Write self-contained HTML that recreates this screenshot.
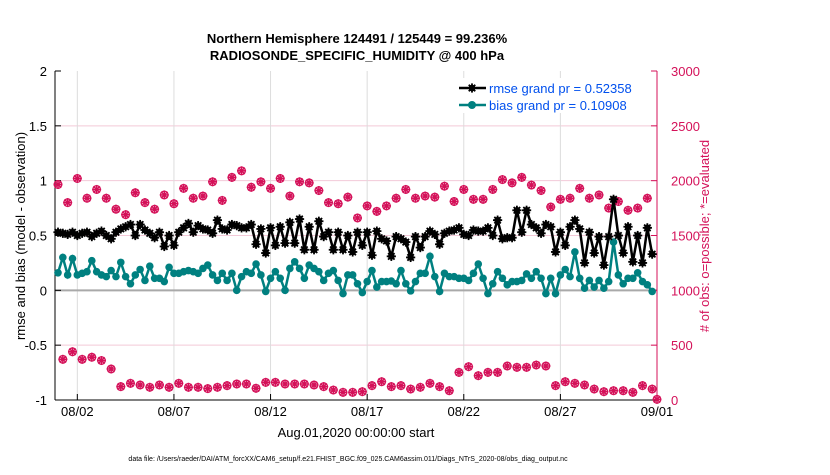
<!DOCTYPE html>
<html><head><meta charset="utf-8"><style>
body{margin:0;background:#fff;width:830px;height:470px;overflow:hidden;font-family:"Liberation Sans",Arial,sans-serif}
svg text{font-family:"Liberation Sans",Arial,sans-serif}
</style></head><body>
<svg id="chart" width="830" height="470" xmlns="http://www.w3.org/2000/svg">
<g id="grid"></g>
<g id="axes"></g>
<g id="marks"></g>
<text x="357" y="43" text-anchor="middle" font-size="13" font-weight="bold">Northern Hemisphere 124491 / 125449 = 99.236%</text>
<text x="357" y="60" text-anchor="middle" font-size="13" font-weight="bold">RADIOSONDE_SPECIFIC_HUMIDITY @ 400 hPa</text>
<text transform="translate(25,236) rotate(-90)" text-anchor="middle" font-size="13">rmse and bias (model - observation)</text>
<text transform="translate(709,236) rotate(-90)" text-anchor="middle" font-size="13" fill="#d41159">#&#160;of obs: o=possible; *=evaluated</text>
<text x="356" y="437" text-anchor="middle" font-size="13">Aug.01,2020 00:00:00 start</text>
<text x="348" y="461" text-anchor="middle" font-size="7">data file: /Users/raeder/DAI/ATM_forcXX/CAM6_setup/f.e21.FHIST_BGC.f09_025.CAM6assim.011/Diags_NTrS_2020-08/obs_diag_output.nc</text>
<g>
<rect x="453" y="78" width="199" height="35" fill="#fff" stroke="none"/>
<line x1="459" y1="88" x2="486" y2="88" stroke="#000" stroke-width="2.5"/>
<g id="lg1"></g>
<text x="489" y="93" font-size="13" fill="#0050ee">rmse grand pr = 0.52358</text>
<line x1="459" y1="105" x2="486" y2="105" stroke="#008080" stroke-width="2.5"/>
<circle cx="472" cy="105" r="4" fill="#008080"/>
<text x="489" y="110" font-size="13" fill="#0050ee">bias grand pr = 0.10908</text>
</g>
</svg>
<script>
const rmse=[0.53,0.52,0.51,0.53,0.50,0.52,0.53,0.49,0.52,0.54,0.50,0.47,0.53,0.56,0.58,0.60,0.50,0.60,0.55,0.52,0.48,0.53,0.40,0.50,0.41,0.53,
0.57,0.61,0.53,0.59,0.56,0.55,0.52,0.64,0.56,0.55,0.60,0.59,0.57,0.57,0.60,0.42,0.56,0.34,0.57,0.41,0.58,0.43,0.62,0.43,0.65,
0.37,0.58,0.37,0.63,0.49,0.53,0.37,0.53,0.37,0.50,0.35,0.53,0.41,0.53,0.32,0.54,0.47,0.45,0.31,0.49,0.47,0.44,0.30,0.49,
0.39,0.49,0.54,0.51,0.42,0.52,0.54,0.55,0.57,0.51,0.50,0.55,0.54,0.54,0.57,0.50,0.64,0.47,0.48,0.48,0.73,0.53,0.73,0.60,0.57,
0.52,0.60,0.58,0.35,0.53,0.41,0.58,0.64,0.56,0.25,0.53,0.34,0.49,0.23,0.49,0.83,0.50,0.34,0.58,0.26,0.50,0.25,0.57,0.33];
const bias=[0.16,0.30,0.14,0.29,0.14,0.155,0.17,0.27,0.17,0.14,0.125,0.18,0.125,0.255,0.125,0.06,0.14,0.19,0.09,0.22,0.11,0.11,0.08,0.21,0.155,0.155,
0.17,0.18,0.17,0.155,0.2,0.23,0.14,0.09,0.155,0.09,0.155,0.0,0.125,0.17,0.155,0.24,0.14,-0.01,0.11,0.17,0.11,0.0,0.2,0.26,0.2,
0.11,0.23,0.2,0.17,0.09,0.155,0.18,0.09,-0.03,0.14,0.14,0.06,-0.02,0.08,0.18,0.03,0.08,0.08,0.085,0.06,0.18,0.06,-0.005,0.08,
0.155,0.155,0.31,0.125,-0.01,0.155,0.125,0.125,0.11,0.11,0.09,0.155,0.24,0.11,-0.03,0.06,0.17,0.11,0.05,0.08,0.08,0.09,0.15,0.11,0.17,
0.11,-0.03,0.11,-0.03,0.14,0.19,0.125,0.35,0.11,0.02,0.09,0.03,0.09,0.02,0.08,0.44,0.14,0.06,0.11,0.11,0.16,0.08,0.05,-0.01];
const obsMain=[1965,1800,2020,1840,1920,1840,1740,1690,1890,1800,1740,1870,1790,
1930,1840,1860,1990,1820,2030,2090,1940,1990,1930,2020,1860,1990,
1980,1910,1800,1790,1850,1660,1770,1720,1770,1840,1920,1840,
1860,1850,1950,1810,1920,1830,1830,1920,2010,1980,2030,1960,1910,
1760,1830,1840,1930,1840,1870,1750,1810,1730,1750,1840];
const obsOff=[371,440,371,390,360,283,122,152,137,116,137,116,152,116,116,104,116,131,146,146,107,161,161,146,146,146,137,122,91,70,70,
76,131,167,122,131,100,116,152,122,85,252,304,222,252,252,310,298,298,319,310,131,167,152,137,100,76,85,85,70,131,100];
const obsFinal=[6];
const dayTicks=['08/02','08/07','08/12','08/17','08/22','08/27','09/01'];
const yTicks=['-1','-0.5','0','0.5','1','1.5','2'];
const y2Ticks=['0','500','1000','1500','2000','2500','3000'];

const NS='http://www.w3.org/2000/svg';
const L=55,R=657,T=71,B=400;
const X=i=>58+i*(R-58)/124; // 6-hourly index
const XD=d=>58+d*(R-58)/31; // day offset
const Y=v=>B-(v+1)*(B-T)/3;
const Y2=v=>B-v*(B-T)/3000;
function mk(tag,attrs,parent){const e=document.createElementNS(NS,tag);for(const k in attrs)e.setAttribute(k,attrs[k]);parent.appendChild(e);return e;}
const grid=document.getElementById('grid'),axes=document.getElementById('axes'),marks=document.getElementById('marks');

y2Ticks.forEach((t,k)=>{const y=Y2(+t);
 if(k>0&&k<6){const g=mk('line',{x1:L,x2:R,y1:y,y2:y,stroke:'#f3c9d8','stroke-width':1},grid);
 
 }
 mk('line',{x1:R-6,x2:R,y1:y,y2:y,stroke:'#d41159','stroke-width':1},axes);
 const tx=mk('text',{x:R+14,y:y+5,'font-size':13,fill:'#d41159'},axes);tx.textContent=t;
 
 
});
dayTicks.forEach((t,k)=>{const x=XD(1+5*k);
 const g=mk('line',{x1:x,x2:x,y1:T,y2:B,stroke:'#dcdcdc','stroke-width':1},grid);
 
 
 mk('line',{x1:x,x2:x,y1:B,y2:B-6,stroke:'#000','stroke-width':1},axes);
 const tx=mk('text',{x:x,y:B+16,'font-size':13,'text-anchor':'middle'},axes);tx.textContent=t;
 
 
});
yTicks.forEach(t=>{const y=Y(+t);
 mk('line',{x1:L,x2:L+6,y1:y,y2:y,stroke:'#000','stroke-width':1},axes);
 const tx=mk('text',{x:L-8,y:y+5,'font-size':13,'text-anchor':'end'},axes);tx.textContent=t;
 
 
});
const zl=mk('line',{x1:L,x2:R,y1:Y(0),y2:Y(0),stroke:'#a9a9a9','stroke-width':2},grid);


mk('line',{x1:L,x2:L,y1:T,y2:B,stroke:'#000','stroke-width':1},axes);
mk('line',{x1:L,x2:R,y1:B,y2:B,stroke:'#000','stroke-width':1},axes);
mk('line',{x1:R,x2:R,y1:T,y2:B,stroke:'#d41159','stroke-width':1},axes);

function obsMark(x,y,name){const g=mk('g',{},marks);
 
 
 mk('circle',{cx:x,cy:y,r:3.8,fill:'none',stroke:'#d41159','stroke-width':1.3},g);
 for(let a=0;a<4;a++){const an=a*Math.PI/4;mk('line',{x1:x-4.5*Math.cos(an),y1:y-4.5*Math.sin(an),x2:x+4.5*Math.cos(an),y2:y+4.5*Math.sin(an),stroke:'#d41159','stroke-width':1.5},g);}
}
obsMain.forEach((v,k)=>obsMark(X(2*k),Y2(v),'obs-count-main'));
obsOff.forEach((v,k)=>obsMark(X(2*k+1),Y2(v),'obs-count-offhour'));
obsFinal.forEach(v=>obsMark(X(124),Y2(v),'obs-count-final'));

function star(x,y,parent){const g=mk('g',{},parent);
 mk('circle',{cx:x,cy:y,r:3.3,fill:'#000'},g);
 for(let a=0;a<4;a++){const an=a*Math.PI/4;mk('line',{x1:x-4.6*Math.cos(an),y1:y-4.6*Math.sin(an),x2:x+4.6*Math.cos(an),y2:y+4.6*Math.sin(an),stroke:'#000','stroke-width':1.8},g);}
 return g;}
const bl=mk('polyline',{points:bias.map((v,i)=>X(i)+','+Y(v)).join(' '),fill:'none',stroke:'#008080','stroke-width':2.5},marks);


bias.forEach((v,i)=>{const c=mk('circle',{cx:X(i),cy:Y(v),r:3.8,fill:'#008080'},marks);
 
 });
const rl=mk('polyline',{points:rmse.map((v,i)=>X(i)+','+Y(v)).join(' '),fill:'none',stroke:'#000','stroke-width':2.5},marks);


rmse.forEach((v,i)=>{const s=star(X(i),Y(v),marks);
 
 });
star(472,88,document.getElementById('lg1'));
</script>
</body></html>
